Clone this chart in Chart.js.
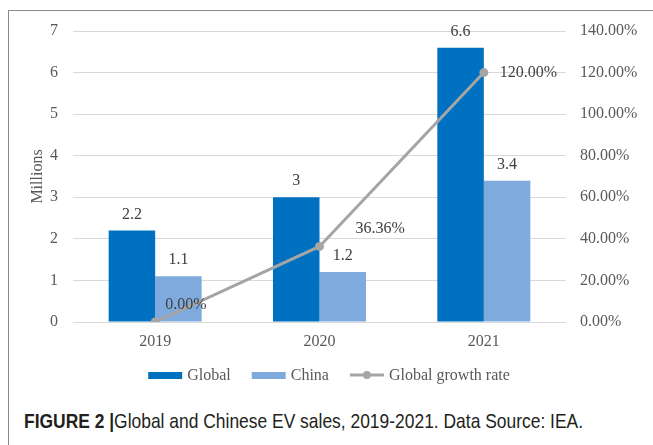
<!DOCTYPE html>
<html>
<head>
<meta charset="utf-8">
<script src="https://cdn.jsdelivr.net/npm/chart.js@4.4.1/dist/chart.umd.min.js"></script>
<style>
  html, body { margin: 0; padding: 0; background: #fff; }
  body { width: 653px; height: 445px; position: relative; overflow: hidden; }
  #frame { position: absolute; left: 8px; top: 10px; right: -2px; bottom: -2px;
           border-top: 1px solid #8a8a8a; border-left: 1px solid #8a8a8a; }
  #wrap { position: absolute; left: 0; top: 0; width: 653px; height: 400px; }
  #caption { position: absolute; left: 24px; top: 410px; line-height: 21px; white-space: nowrap;
             font-family: "Liberation Sans Narrow", "Liberation Sans", Arial, sans-serif;
             font-size: 21px; color: #231f20; transform-origin: 0 0; }
  #caption b { font-weight: bold; }
</style>
</head>
<body>
<div id="frame"></div>
<div id="wrap"><canvas id="chart"></canvas></div>
<div id="caption"><b>FIGURE 2 |</b>Global and Chinese EV sales, 2019-2021. Data Source: IEA.</div>

<script>
// chart data
const years = ["2019", "2020", "2021"];
const globalSales = [2.2, 3, 6.6];
const chinaSales = [1.1, 1.2, 3.4];
const growthRate = [0, 0.3636, 1.2];
const leftTicks = [0, 1, 2, 3, 4, 5, 6, 7];
const rightTicks = [0, 0.2, 0.4, 0.6, 0.8, 1.0, 1.2, 1.4];

const serif = "'Liberation Serif', 'Times New Roman', serif";
const tickColor = "#595959";

// squeeze the caption to the condensed width of the original
const cap = document.getElementById("caption");
const capW = cap.getBoundingClientRect().width;
cap.style.transform = "scaleX(" + (559 / capW) + ")";

// value labels over bars and next to line points
const valueLabels = {
  id: "valueLabels",
  afterDatasetsDraw(chart) {
    const ctx = chart.ctx;
    const lineOffsets = [[10, -17], [36, -18], [16, 0]]; // excel moved these by hand
    ctx.save();
    ctx.font = "16px " + serif;
    ctx.fillStyle = "#404040";
    ctx.textBaseline = "middle";
    chart.data.datasets.forEach((ds, di) => {
      const meta = chart.getDatasetMeta(di);
      meta.data.forEach((el, i) => {
        const v = ds.data[i];
        if (ds.type === "line") {
          ctx.textAlign = "left";
          ctx.fillText((v * 100).toFixed(2) + "%", el.x + lineOffsets[i][0], el.y + lineOffsets[i][1]);
        } else {
          ctx.textAlign = "center";
          ctx.fillText(String(v), el.x, el.y - 16);
        }
      });
    });
    ctx.restore();
  }
};

// legend drawn by hand to get the excel look
const bottomLegend = {
  id: "bottomLegend",
  afterDraw(chart) {
    const ctx = chart.ctx;
    const items = chart.data.datasets.map(ds => ({ text: ds.label, color: ds.borderColor, bg: ds.backgroundColor, line: ds.type === "line" }));
    ctx.save();
    ctx.font = "16px " + serif;
    const sym = 34, gapText = 5, gapItem = 21;
    let total = 0;
    items.forEach((it, i) => {
      it.w = ctx.measureText(it.text).width;
      total += sym + gapText + it.w + (i < items.length - 1 ? gapItem : 0);
    });
    let x = 329 - total / 2;
    const y = 375;
    items.forEach(it => {
      if (it.line) {
        ctx.strokeStyle = it.color;
        ctx.lineWidth = 3;
        ctx.beginPath();
        ctx.moveTo(x, y);
        ctx.lineTo(x + sym, y);
        ctx.stroke();
        ctx.fillStyle = it.color;
        ctx.beginPath();
        ctx.arc(x + sym / 2, y, 4, 0, Math.PI * 2);
        ctx.fill();
      } else {
        ctx.fillStyle = it.bg;
        ctx.fillRect(x, y - 3, sym, 7);
      }
      x += sym + gapText;
      ctx.fillStyle = tickColor;
      ctx.textAlign = "left";
      ctx.textBaseline = "middle";
      ctx.fillText(it.text, x, y + 1);
      x += it.w + gapItem;
    });
    ctx.restore();
  }
};

const ctx = document.getElementById("chart").getContext("2d");
new Chart(ctx, {
  data: {
    labels: years,
    datasets: [
      {
        type: "bar",
        label: "Global",
        data: globalSales,
        yAxisID: "y",
        backgroundColor: "#0070c0",
        borderColor: "#0070c0",
        borderWidth: 0,
        categoryPercentage: 0.566,
        barPercentage: 1,
        order: 1,
      },
      {
        type: "bar",
        label: "China",
        data: chinaSales,
        yAxisID: "y",
        backgroundColor: "#7faadd",
        borderColor: "#7faadd",
        borderWidth: 0,
        categoryPercentage: 0.566,
        barPercentage: 1,
        order: 1,
      },
      {
        type: "line",
        label: "Global growth rate",
        data: growthRate,
        yAxisID: "y1",
        borderColor: "#a5a5a5",
        backgroundColor: "#a5a5a5",
        borderWidth: 3,
        pointRadius: 4.5,
        pointBackgroundColor: "#a5a5a5",
        pointBorderWidth: 0,
        tension: 0,
        order: 0,
      },
    ],
  },
  options: {
    responsive: true,
    maintainAspectRatio: false,
    animation: false,
    layout: { padding: { left: 0, right: 0, top: 31, bottom: 48 } },
    plugins: {
      legend: { display: false },
      tooltip: { enabled: false },
    },
    scales: {
      x: {
        grid: { display: false },
        border: { display: false },
        ticks: { color: tickColor, font: { family: serif, size: 16 }, padding: 2 },
        afterFit(scale) { scale.height = 30; },
      },
      y: {
        position: "left",
        min: 0,
        max: 7,
        afterBuildTicks(scale) { scale.ticks = leftTicks.map(v => ({ value: v })); },
        grid: { color: "#d9d9d9", lineWidth: 1, drawTicks: false },
        border: { display: false },
        ticks: { color: tickColor, font: { family: serif, size: 16 }, padding: 15 },
        title: { display: true, text: "Millions", color: tickColor, font: { family: serif, size: 16 }, padding: { top: 28, bottom: 0 } },
        afterFit(scale) { scale.width = 73; },
      },
      y1: {
        position: "right",
        min: 0,
        max: 1.4,
        afterBuildTicks(scale) { scale.ticks = rightTicks.map(v => ({ value: v })); },
        grid: { display: false, drawTicks: false },
        border: { display: false },
        ticks: {
          color: tickColor,
          font: { family: serif, size: 16 },
          padding: 14,
          callback: v => (v * 100).toFixed(2) + "%",
        },
        afterFit(scale) { scale.width = 87; },
      },
    },
  },
  plugins: [valueLabels, bottomLegend],
});
</script>
</body>
</html>
